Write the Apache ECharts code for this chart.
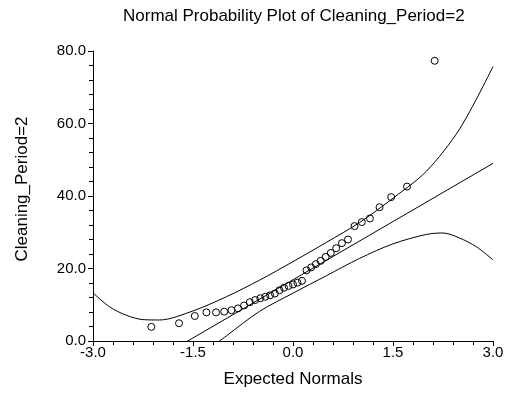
<!DOCTYPE html>
<html>
<head>
<meta charset="utf-8">
<script src="https://cdn.jsdelivr.net/npm/echarts@6/dist/echarts.min.js"></script>
<style>html,body{margin:0;padding:0;background:#fff;}#c{width:518px;height:393px;}</style>
</head>
<body>
<div id="c"></div>
<script>
// Observed points: expected normal (x) and Cleaning_Period=2 value (y)
var expectedNormals = [-2.125,-1.710,-1.473,-1.298,-1.154,-1.032,-0.923,-0.825,-0.734,-0.648,-0.567,-0.490,-0.415,-0.343,-0.272,-0.203,-0.135,-0.067,0.000,0.067,0.135,0.203,0.272,0.343,0.415,0.490,0.567,0.648,0.734,0.825,0.923,1.032,1.154,1.298,1.473,1.710,2.125];
var observed = [3.9,4.9,6.9,7.9,7.9,8.1,8.5,9.0,9.8,10.7,11.3,11.8,12.2,12.6,13.1,14.0,14.7,15.2,15.6,16.1,16.6,19.5,20.3,21.2,22.1,23.2,24.3,25.6,27.0,28.0,31.7,32.8,33.8,36.9,39.7,42.6,77.3];

// Reference line (straight)
var fitX = [-3.0, 3.0];
var fitY = [-15.2, 49.0];

// Upper confidence band
var upperX = [-3.0,-2.75,-2.5,-2.25,-2.0,-1.5,-1.0,-0.5,0.0,0.5,1.0,1.5,2.0,2.5,3.0];
var upperY = [13.3,9.4,7.1,5.9,5.8,8.3,12.2,16.8,21.9,27.2,32.7,39.4,46.8,58.5,75.7];

// Lower confidence band
var lowerX = [-1.5,-1.0,-0.5,0.0,0.5,1.0,1.5,2.0,2.25,2.5,2.75,3.0];
var lowerY = [-5.5,1.4,8.2,13.2,18.0,22.8,26.8,29.4,29.8,28.4,26.0,22.4];

// Axis ticks
var xTicks = [-3.0,-1.5,0.0,1.5,3.0];
var yTicks = [0.0,20.0,40.0,60.0,80.0];

function zip(a,b){return a.map(function(v,i){return [v,b[i]];});}

var chart = echarts.init(document.getElementById('c'), null, {renderer:'canvas'});
var font = 'Liberation Sans, Arial, sans-serif';
var lineStyle = {color:'#000', width:1};
chart.setOption({
  animation:false,
  backgroundColor:'#fff',
  title:{
    text:'Normal Probability Plot of Cleaning_Period=2',
    left:118, top:3,
    textStyle:{fontFamily:font, fontSize:17, fontWeight:'normal', color:'#000'}
  },
  grid:{left:93, right:25, top:51, bottom:51, containLabel:false},
  xAxis:{
    type:'value', min:xTicks[0], max:xTicks[xTicks.length-1], interval:1.5,
    name:'Expected Normals', nameLocation:'middle', nameGap:30,
    nameTextStyle:{fontFamily:font, fontSize:17, color:'#000'},
    axisLine:{show:true, onZero:false, lineStyle:{color:'#000', width:1}},
    axisTick:{show:true, length:5, lineStyle:{color:'#000'}},
    minorTick:{show:true, splitNumber:5, length:4, lineStyle:{color:'#000'}},
    splitLine:{show:false},
    axisLabel:{fontFamily:font, fontSize:15, color:'#000', margin:4,
      formatter:function(v){return v.toFixed(1);}}
  },
  yAxis:{
    type:'value', min:yTicks[0], max:yTicks[yTicks.length-1], interval:20,
    name:'Cleaning_Period=2', nameLocation:'middle', nameGap:62, nameRotate:90,
    nameTextStyle:{fontFamily:font, fontSize:17, color:'#000', padding:[0,0,0,14]},
    axisLine:{show:true, onZero:false, lineStyle:{color:'#000', width:1}},
    axisTick:{show:true, length:5, lineStyle:{color:'#000'}},
    minorTick:{show:true, splitNumber:5, length:4, lineStyle:{color:'#000'}},
    splitLine:{show:false},
    axisLabel:{fontFamily:font, fontSize:15, color:'#000', margin:7,
      formatter:function(v){return v.toFixed(1);}}
  },
  series:[
    {type:'line', data:zip(upperX,upperY), smooth:0.3, showSymbol:false, clip:true, lineStyle:lineStyle, silent:true},
    {type:'line', data:zip(fitX,fitY), showSymbol:false, clip:true, lineStyle:lineStyle, silent:true},
    {type:'line', data:zip(lowerX,lowerY), smooth:0.3, showSymbol:false, clip:true, lineStyle:lineStyle, silent:true},
    {type:'scatter', data:zip(expectedNormals,observed), symbol:'circle', symbolSize:7, z:5,
      itemStyle:{color:'rgba(255,255,255,0)', borderColor:'#000', borderWidth:1, opacity:1}, clip:false}
  ]
});
</script>
</body>
</html>
